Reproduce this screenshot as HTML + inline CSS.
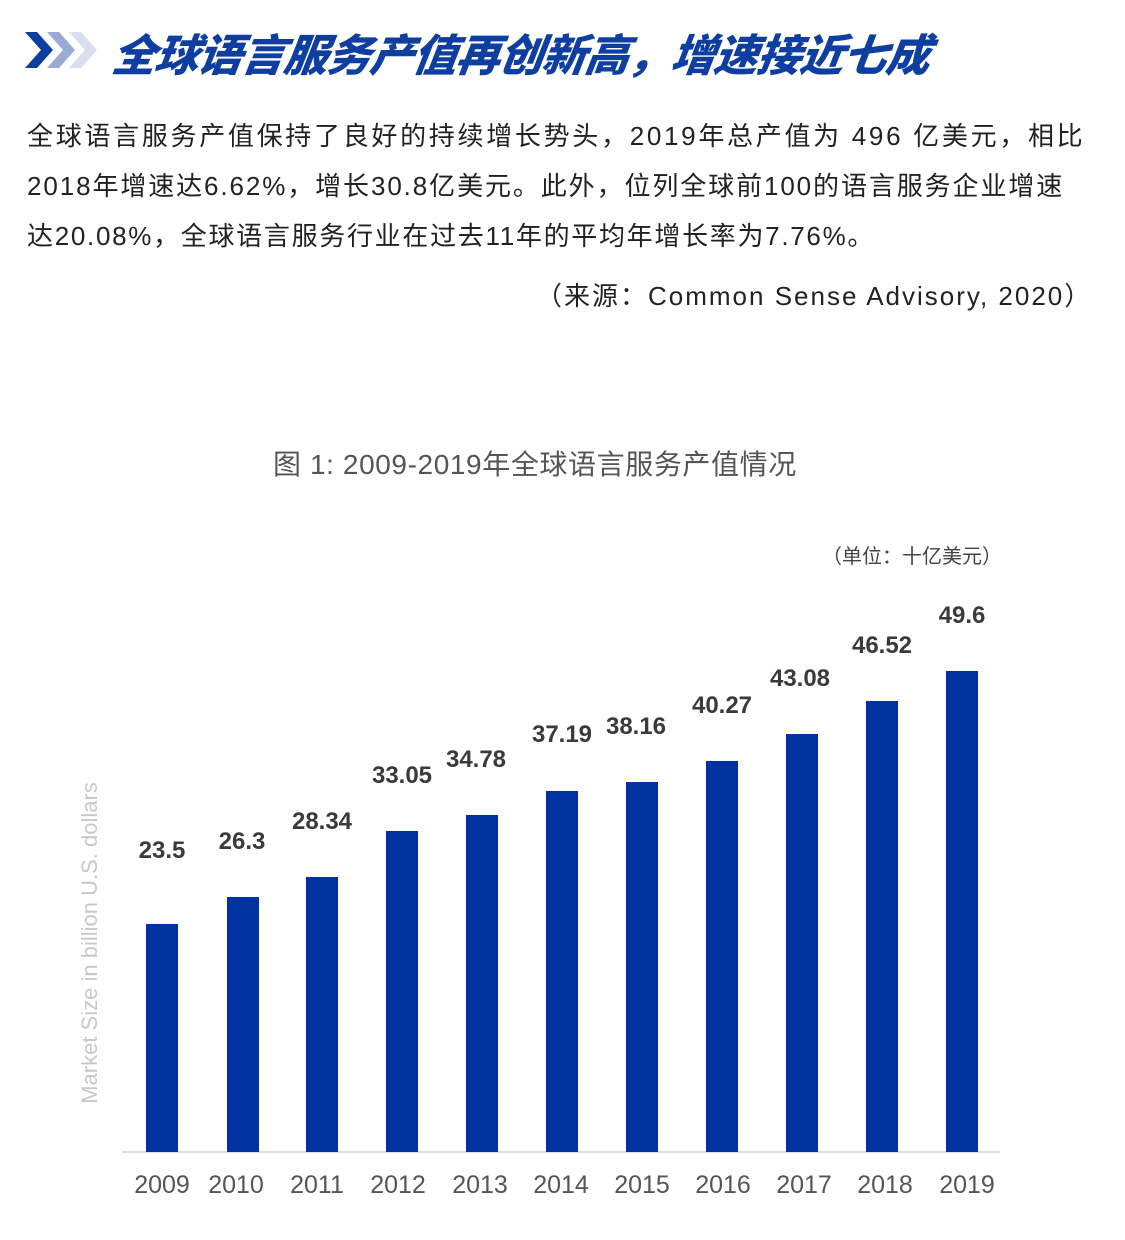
<!DOCTYPE html>
<html><head><meta charset="utf-8"><style>
body{margin:0;width:1125px;height:1240px;background:#fff;position:relative;overflow:hidden;font-family:"Liberation Sans","Noto Sans CJK SC",sans-serif}
.a{position:absolute;white-space:nowrap}
.t{left:113px;top:20px;font-size:44px;font-weight:900;font-style:italic;color:#0d3ea0;letter-spacing:-1px;transform:skewX(-8deg)}
.p{left:27px;font-size:26px;color:#222}
.bar{position:absolute;width:32px;background:#0033a0;bottom:88px}
.v{position:absolute;font-size:24px;font-weight:bold;color:#3a3a3a;width:100px;text-align:center}
.y{position:absolute;top:1171px;font-size:25px;color:#555;width:90px;text-align:center}
</style></head><body>
<svg class="a" style="left:25px;top:32px" width="75" height="36" viewBox="0 0 75 36">
<polygon points="0,0 12,0 28,18 12,36 0,36 16,18" fill="#0d3ea0"/>
<polygon points="22,0 34,0 50,18 34,36 22,36 38,18" fill="#9aa9d6"/>
<polygon points="44,0 56,0 72,18 56,36 44,36 60,18" fill="#d9def0"/>
</svg>
<div class="a t">全球语言服务产值再创新高，增速接近七成</div>
<div class="a p" style="top:116px;letter-spacing:2.7px">全球语言服务产值保持了良好的持续增长势头，2019年总产值为 496 亿美元，相比</div>
<div class="a p" style="top:166px;letter-spacing:1.9px">2018年增速达6.62%，增长30.8亿美元。此外，位列全球前100的语言服务企业增速</div>
<div class="a p" style="top:216px;letter-spacing:1.7px">达20.08%，全球语言服务行业在过去11年的平均年增长率为7.76%。</div>
<div class="a p" style="top:276px;left:536px;letter-spacing:2px">（来源：Common Sense Advisory, 2020）</div>
<div class="a" style="left:273px;top:443px;font-size:28px;color:#555;letter-spacing:0.6px">图 1: 2009-2019年全球语言服务产值情况</div>
<div class="a" style="left:822px;top:540px;font-size:20px;color:#444">（单位：十亿美元）</div>
<div class="a" style="left:90px;top:943px;font-size:22px;color:#c8c8c8;transform:translate(-50%,-50%) rotate(-90deg)">Market Size in billion U.S. dollars</div>
<div class="a" style="left:122px;top:1151px;width:878px;height:2px;background:#ddd"></div>
<div class="bar" style="left:146px;height:228px"></div>
<div class="bar" style="left:227px;height:255px"></div>
<div class="bar" style="left:306px;height:275px"></div>
<div class="bar" style="left:386px;height:321px"></div>
<div class="bar" style="left:466px;height:337px"></div>
<div class="bar" style="left:546px;height:361px"></div>
<div class="bar" style="left:626px;height:370px"></div>
<div class="bar" style="left:706px;height:391px"></div>
<div class="bar" style="left:786px;height:418px"></div>
<div class="bar" style="left:866px;height:451px"></div>
<div class="bar" style="left:946px;height:481px"></div>
<div class="v" style="left:112px;top:837px">23.5</div>
<div class="v" style="left:192px;top:828px">26.3</div>
<div class="v" style="left:272px;top:808px">28.34</div>
<div class="v" style="left:352px;top:762px">33.05</div>
<div class="v" style="left:426px;top:746px">34.78</div>
<div class="v" style="left:512px;top:721px">37.19</div>
<div class="v" style="left:586px;top:713px">38.16</div>
<div class="v" style="left:672px;top:692px">40.27</div>
<div class="v" style="left:750px;top:665px">43.08</div>
<div class="v" style="left:832px;top:632px">46.52</div>
<div class="v" style="left:912px;top:602px">49.6</div>
<div class="y" style="left:117px">2009</div>
<div class="y" style="left:191px">2010</div>
<div class="y" style="left:272px">2011</div>
<div class="y" style="left:353px">2012</div>
<div class="y" style="left:435px">2013</div>
<div class="y" style="left:516px">2014</div>
<div class="y" style="left:597px">2015</div>
<div class="y" style="left:678px">2016</div>
<div class="y" style="left:759px">2017</div>
<div class="y" style="left:840px">2018</div>
<div class="y" style="left:922px">2019</div>
</body></html>
